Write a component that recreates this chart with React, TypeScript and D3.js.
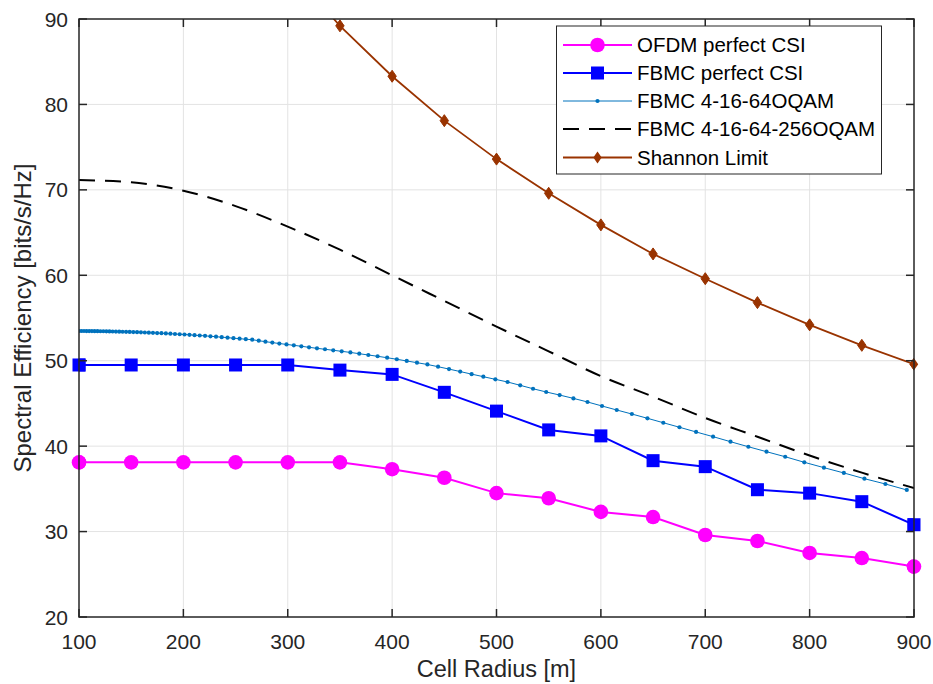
import React from "react";
import * as d3 from "d3";

// ---- data ----
const radius = [100, 150, 200, 250, 300, 350, 400, 450, 500, 550, 600, 650, 700, 750, 800, 850, 900];
const ofdmPerfect = [38.1, 38.1, 38.1, 38.1, 38.1, 38.1, 37.3, 36.3, 34.5, 33.9, 32.3, 31.7, 29.6, 28.9, 27.5, 26.9, 25.9];
const fbmcPerfect = [49.5, 49.5, 49.5, 49.5, 49.5, 48.9, 48.4, 46.3, 44.1, 41.9, 41.2, 38.3, 37.6, 34.9, 34.5, 33.5, 30.8];
const fbmc256 = [71.15, 70.9, 69.9, 68.1, 65.7, 63.0, 60.0, 57.0, 54.0, 51.1, 48.2, 45.8, 43.3, 41.1, 38.9, 36.9, 35.1];
const shannonRadius = [300, 350, 400, 450, 500, 550, 600, 650, 700, 750, 800, 850, 900];
const shannon = [96.1, 89.2, 83.3, 78.1, 73.6, 69.6, 65.9, 62.5, 59.6, 56.8, 54.2, 51.8, 49.6];

const fbmc64Radius = [
  100.0, 102.36, 104.77, 107.24, 109.76, 112.35, 114.99, 117.7, 120.47, 123.31,
  126.21, 129.18, 132.23, 135.34, 138.53, 141.79, 145.13, 148.55, 152.05, 155.63,
  159.33, 163.08, 166.92, 170.85, 174.88, 179.0, 183.22, 187.53, 191.95, 196.47,
  201.1, 205.86, 210.71, 215.67, 220.75, 225.95, 231.28, 236.73, 242.3, 248.01,
  253.85, 259.83, 265.95, 272.22, 278.63, 285.2, 291.92, 298.79, 305.83, 313.03,
  320.4, 328.0, 335.7, 343.6, 351.7, 360.0, 368.5, 377.2, 386.1, 395.2,
  404.5, 414.0, 423.8, 433.8, 444.0, 454.5, 465.2, 476.2, 487.4, 498.9,
  510.6, 522.7, 535.0, 547.6, 560.5, 573.7, 587.2, 601.1, 615.2, 629.7,
  644.6, 659.8, 675.3, 691.2, 707.5, 724.2, 741.3, 758.7, 776.6, 794.9,
  813.7, 832.8, 852.5, 872.6, 893.1,
];
const fbmc64 = [
  53.48, 53.48, 53.48, 53.47, 53.47, 53.47, 53.46, 53.46, 53.45, 53.45,
  53.44, 53.43, 53.42, 53.41, 53.4, 53.39, 53.38, 53.37, 53.35, 53.34,
  53.32, 53.3, 53.28, 53.26, 53.24, 53.22, 53.19, 53.16, 53.13, 53.1,
  53.07, 53.03, 52.99, 52.95, 52.91, 52.86, 52.81, 52.76, 52.7, 52.64,
  52.58, 52.52, 52.46, 52.34, 52.23, 52.12, 52.01, 51.91, 51.8, 51.69,
  51.57, 51.45, 51.34, 51.22, 51.1, 50.97, 50.82, 50.67, 50.52, 50.35,
  50.17, 49.97, 49.77, 49.56, 49.3, 49.02, 48.73, 48.43, 48.13, 47.82,
  47.51, 47.12, 46.72, 46.34, 45.98, 45.59, 45.17, 44.7, 44.23, 43.76,
  43.26, 42.74, 42.21, 41.66, 41.11, 40.52, 39.93, 39.35, 38.76, 38.11,
  37.48, 36.86, 36.19, 35.57, 34.87,
];

const xTicks = [100, 200, 300, 400, 500, 600, 700, 800, 900];
const yTicks = [20, 30, 40, 50, 60, 70, 80, 90];
const legendLabels = ["OFDM perfect CSI", "FBMC perfect CSI", "FBMC 4-16-64OQAM", "FBMC 4-16-64-256OQAM", "Shannon Limit"];

// ---- layout ----
const W = 933, H = 684;
const L = 79, R = 914, T = 19, B = 617;
const FONT = "'Liberation Sans', Arial, Helvetica, sans-serif";
const AX = "#262626";
const C_OFDM = "#FF00FF";
const C_FBMC = "#0000FF";
const C_64 = "#0072BD";
const C_256 = "#000000";
const C_SH = "#993300";

const diamond = "M0,-6L4.2,0L0,6L-4.2,0Z";

export default function App() {
  const x = d3.scaleLinear().domain([100, 900]).range([L, R]);
  const y = d3.scaleLinear().domain([20, 90]).range([B, T]);

  const lin = d3.line<[number, number]>().x((d) => x(d[0])).y((d) => y(d[1]));
  const smooth = d3
    .line<[number, number]>()
    .x((d) => x(d[0]))
    .y((d) => y(d[1]))
    .curve(d3.curveMonotoneX);

  const ofdmPts = radius.map((r, i) => [r, ofdmPerfect[i]] as [number, number]);
  const fbmcPts = radius.map((r, i) => [r, fbmcPerfect[i]] as [number, number]);
  const p256 = radius.map((r, i) => [r, fbmc256[i]] as [number, number]);
  const p64 = fbmc64Radius.map((r, i) => [r, fbmc64[i]] as [number, number]);
  const shPts = shannonRadius.map((r, i) => [r, shannon[i]] as [number, number]);

  const legX = 556.5, legY = 26, legW = 325, legH = 148;
  const rowY = [45, 73, 101, 129, 157.5];
  const lx1 = 563, lx2 = 632, lmx = 597.5, ltx = 637;

  return (
    <svg
      width={W}
      height={H}
      style={{ position: "absolute", left: 0, top: 0, background: "#fff" }}
      fontFamily={FONT}
    >
      <rect x={0} y={0} width={W} height={H} fill="#fff" />
      <defs>
        <clipPath id="plotclip">
          <rect x={L} y={T} width={R - L} height={B - T} />
        </clipPath>
      </defs>
      {/* grid */}
      <g stroke="#e3e3e3" strokeWidth={1}>
        {xTicks.slice(1, -1).map((t) => (
          <line key={"gx" + t} x1={x(t)} x2={x(t)} y1={T} y2={B} />
        ))}
        {yTicks.slice(1, -1).map((t) => (
          <line key={"gy" + t} x1={L} x2={R} y1={y(t)} y2={y(t)} />
        ))}
      </g>

      <g clipPath="url(#plotclip)">
        {/* Shannon */}
        <path d={lin(shPts) || ""} fill="none" stroke={C_SH} strokeWidth={1.8} />
        {shPts.map((p, i) => (
          <path key={"sh" + i} d={diamond} transform={`translate(${x(p[0])},${y(p[1])})`} fill={C_SH} stroke={C_SH} strokeWidth={1} />
        ))}
        {/* 256 dashed */}
        <path d={smooth(p256) || ""} fill="none" stroke={C_256} strokeWidth={2} strokeDasharray="16 10" />
        {/* 64 dotted */}
        <path d={lin(p64) || ""} fill="none" stroke={C_64} strokeWidth={1} />
        {p64.map((p, i) => (
          <circle key={"d" + i} cx={x(p[0])} cy={y(p[1])} r={2.1} fill={C_64} />
        ))}
        {/* FBMC perfect */}
        <path d={lin(fbmcPts) || ""} fill="none" stroke={C_FBMC} strokeWidth={2} />
        {fbmcPts.map((p, i) => (
          <rect key={"f" + i} x={x(p[0]) - 6.5} y={y(p[1]) - 6.5} width={13} height={13} fill={C_FBMC} />
        ))}
        {/* OFDM perfect */}
        <path d={lin(ofdmPts) || ""} fill="none" stroke={C_OFDM} strokeWidth={2} />
        {ofdmPts.map((p, i) => (
          <circle key={"o" + i} cx={x(p[0])} cy={y(p[1])} r={7.3} fill={C_OFDM} />
        ))}
      </g>
      {/* markers at edges are not clipped in MATLAB */}
      <g>
        {[ofdmPts[0], ofdmPts[ofdmPts.length - 1]].map((p, i) => (
          <circle key={"oe" + i} cx={x(p[0])} cy={y(p[1])} r={7.3} fill={C_OFDM} />
        ))}
        {[fbmcPts[0], fbmcPts[fbmcPts.length - 1]].map((p, i) => (
          <rect key={"fe" + i} x={x(p[0]) - 6.5} y={y(p[1]) - 6.5} width={13} height={13} fill={C_FBMC} />
        ))}
        <path d={diamond} transform={`translate(${x(900)},${y(shannon[shannon.length - 1])})`} fill={C_SH} />
      </g>

      {/* axes box */}
      <rect x={L} y={T} width={R - L} height={B - T} fill="none" stroke={AX} strokeWidth={1.5} />
      <g stroke={AX} strokeWidth={1.5}>
        {xTicks.map((t) => (
          <g key={"tx" + t}>
            <line x1={x(t)} x2={x(t)} y1={B} y2={B - 8} />
            <line x1={x(t)} x2={x(t)} y1={T} y2={T + 8} />
          </g>
        ))}
        {yTicks.map((t) => (
          <g key={"ty" + t}>
            <line x1={L} x2={L + 8} y1={y(t)} y2={y(t)} />
            <line x1={R} x2={R - 8} y1={y(t)} y2={y(t)} />
          </g>
        ))}
      </g>
      <g fill={AX} fontSize={21}>
        {xTicks.map((t) => (
          <text key={"lx" + t} x={x(t)} y={649} textAnchor="middle">
            {t}
          </text>
        ))}
        {yTicks.map((t) => (
          <text key={"ly" + t} x={68} y={y(t) + 7.5} textAnchor="end">
            {t}
          </text>
        ))}
      </g>
      <text x={(L + R) / 2} y={677} textAnchor="middle" fontSize={23.5} fill={AX}>
        Cell Radius [m]
      </text>
      <text transform={`translate(31,${(T + B) / 2}) rotate(-90)`} textAnchor="middle" fontSize={24} fill={AX}>
        Spectral Efficiency [bits/s/Hz]
      </text>

      {/* legend */}
      <rect x={legX} y={legY} width={legW} height={legH} fill="#fff" stroke={AX} strokeWidth={1} />
      <g>
        <line x1={lx1} x2={lx2} y1={rowY[0]} y2={rowY[0]} stroke={C_OFDM} strokeWidth={2} />
        <circle cx={lmx} cy={rowY[0]} r={7.3} fill={C_OFDM} />
        <line x1={lx1} x2={lx2} y1={rowY[1]} y2={rowY[1]} stroke={C_FBMC} strokeWidth={2} />
        <rect x={lmx - 6.5} y={rowY[1] - 6.5} width={13} height={13} fill={C_FBMC} />
        <line x1={lx1} x2={lx2} y1={rowY[2]} y2={rowY[2]} stroke={C_64} strokeWidth={1} />
        <circle cx={lmx} cy={rowY[2]} r={2.1} fill={C_64} />
        <line x1={lx1} x2={lx2} y1={rowY[3]} y2={rowY[3]} stroke={C_256} strokeWidth={2} strokeDasharray="16 10" />
        <line x1={lx1} x2={lx2} y1={rowY[4]} y2={rowY[4]} stroke={C_SH} strokeWidth={1.8} />
        <path d={diamond} transform={`translate(${lmx},${rowY[4]})`} fill={C_SH} />
        {legendLabels.map((s, i) => (
          <text key={s} x={ltx} y={rowY[i] + 7.3} fontSize={20.5} fill="#000">
            {s}
          </text>
        ))}
      </g>
    </svg>
  );
}
